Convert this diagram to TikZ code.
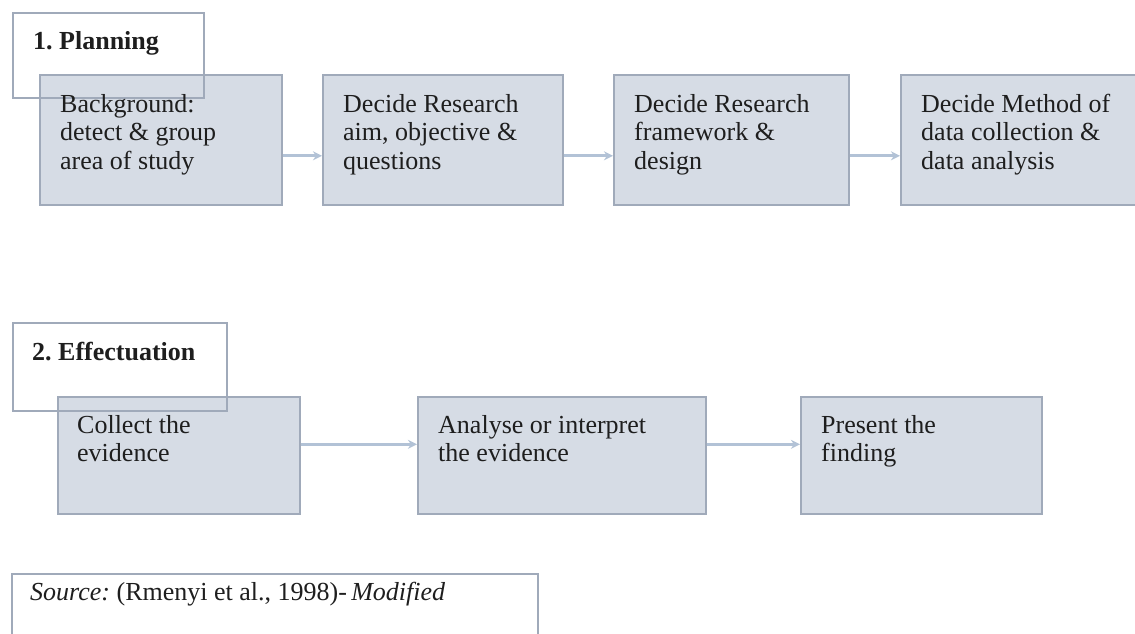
\documentclass[tikz,border=0pt]{standalone}
\usepackage{fontspec}
\setmainfont{Liberation Serif}
\usetikzlibrary{arrows.meta}
\frenchspacing

\definecolor{boxfill}{RGB}{214,220,229}
\definecolor{boxline}{RGB}{160,170,186}
\definecolor{arrowcol}{RGB}{178,194,214}
\definecolor{inkcol}{RGB}{30,30,30}

\tikzset{
  stepbox/.style={draw=boxline, line width=1.6pt, fill=boxfill, rectangle,
    inner sep=0pt, anchor=north west},
  phasebox/.style={draw=boxline, line width=1.6pt, rectangle, inner sep=0pt,
    anchor=north west},
  steptext/.style={anchor=north west, inner sep=0pt, align=left,
    text=inkcol, font=\fontsize{26}{28.5}\selectfont},
  phasetext/.style={anchor=base west, inner sep=0pt, text=inkcol,
    font=\fontsize{26}{28.5}\selectfont\bfseries},
  flow/.style={draw=arrowcol, line width=3pt,
    -{Stealth[length=9pt,width=9pt]}},
}

\begin{document}
\begin{tikzpicture}[x=1pt,y=-1pt]
  \useasboundingbox (0,0) rectangle (1135,634);
  \clip (0,0) rectangle (1135,634);
  \fill[white] (0,0) rectangle (1135,634);

  % ---------- 1. Planning ----------
  \node[phasebox, fill=white, minimum width=191pt, minimum height=85pt] (p1) at (12,12) {};

  \node[stepbox, minimum width=242pt, minimum height=130pt] (a1) at (39,74) {};
  \node[stepbox, minimum width=240pt, minimum height=130pt] (a2) at (322,74) {};
  \node[stepbox, minimum width=235pt, minimum height=130pt] (a3) at (613,74) {};
  \node[stepbox, minimum width=260pt, minimum height=130pt] (a4) at (900,74) {};

  % outline of the phase tab stays visible over the first step
  \node[phasebox, minimum width=191pt, minimum height=85pt] at (12,12) {};
  \node[phasetext] (p1t) at (33,50) {1. Planning};

  \node[steptext] (a1t) at ([xshift=21pt,yshift=-18pt]a1.north west)
    {\strut Background:\\detect \& group\\area of study};
  \node[steptext] (a2t) at ([xshift=21pt,yshift=-18pt]a2.north west)
    {\strut Decide Research\\aim, objective \&\\questions};
  \node[steptext] (a3t) at ([xshift=21pt,yshift=-18pt]a3.north west)
    {\strut Decide Research\\framework \&\\design};
  \node[steptext] (a4t) at ([xshift=21pt,yshift=-18pt]a4.north west)
    {\strut Decide Method of\\data collection \&\\data analysis};

  \draw[flow] ([yshift=-16pt]a1.east) -- ([yshift=-16pt]a2.west);
  \draw[flow] ([yshift=-16pt]a2.east) -- ([yshift=-16pt]a3.west);
  \draw[flow] ([yshift=-16pt]a3.east) -- ([yshift=-16pt]a4.west);

  % ---------- 2. Effectuation ----------
  \node[phasebox, fill=white, minimum width=214pt, minimum height=88pt] (p2) at (12,322) {};

  \node[stepbox, minimum width=242pt, minimum height=117pt] (b1) at (57,396) {};
  \node[stepbox, minimum width=288pt, minimum height=117pt] (b2) at (417,396) {};
  \node[stepbox, minimum width=241pt, minimum height=117pt] (b3) at (800,396) {};

  \node[phasebox, minimum width=214pt, minimum height=88pt] at (12,322) {};
  \node[phasetext] (p2t) at (32,360) {2. Effectuation};

  \node[steptext] (b1t) at ([xshift=20pt,yshift=-17pt]b1.north west)
    {\strut Collect the\\evidence};
  \node[steptext] (b2t) at ([xshift=21pt,yshift=-17pt]b2.north west)
    {\strut Analyse or interpret\\the evidence};
  \node[steptext] (b3t) at ([xshift=21pt,yshift=-17pt]b3.north west)
    {\strut Present the\\finding};

  \draw[flow] ([yshift=11pt]b1.east) -- ([yshift=11pt]b2.west);
  \draw[flow] ([yshift=11pt]b2.east) -- ([yshift=11pt]b3.west);

  % ---------- source note ----------
  \node[phasebox, fill=white, minimum width=526pt, minimum height=90pt] (src) at (11,573) {};
  \node[anchor=base west, inner sep=0pt, text=inkcol,
    font=\fontsize{26}{28.5}\selectfont] (srct) at (30,600)
    {\textit{Source:} (Rmenyi et al., 1998)-\,\textit{Modified}};
\end{tikzpicture}
\end{document}
